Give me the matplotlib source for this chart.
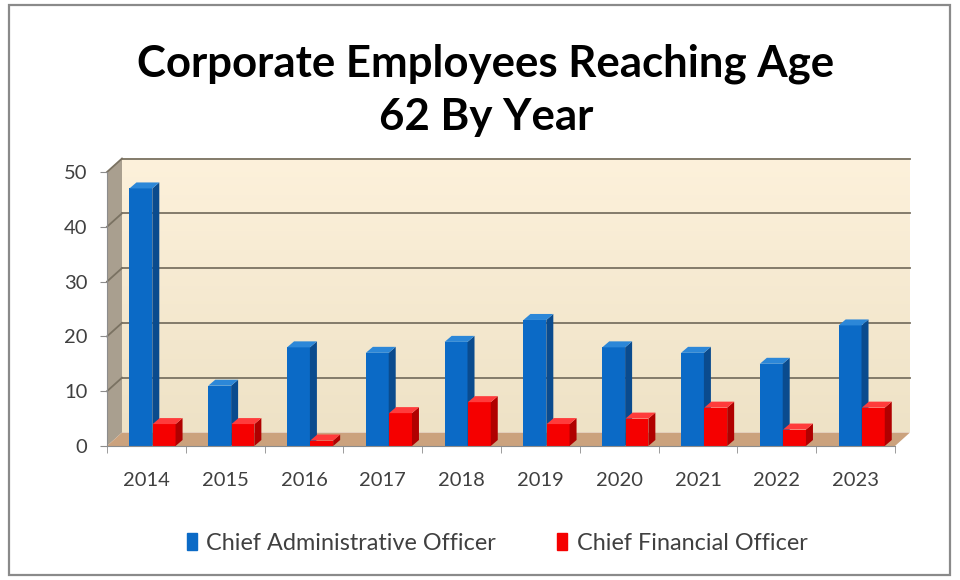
import matplotlib.pyplot as plt
import matplotlib.patches as mpatches
import numpy as np

# --- 1. DATA ---
years = ['2014', '2015', '2016', '2017', '2018', '2019', '2020', '2021', '2022', '2023']
cao = [47, 11, 18, 17, 19, 23, 18, 17, 15, 22]   # Chief Administrative Officer
cfo = [4, 4, 1, 6, 8, 4, 5, 7, 3, 7]             # Chief Financial Officer

# --- 2. 3D-LOOK SETTINGS (in data units) ---
X_PX = 10 / 788.0     # data units per pixel, x
Y_PX = 50 / 274.0     # data units per pixel, y
WALL_DX, WALL_DY = 15 * X_PX, 13.5 * Y_PX
BAR_DX, BAR_DY = 7 * X_PX, 6 * Y_PX
BAR_W = 0.29

plt.rcParams['font.family'] = ['Lato', 'DejaVu Sans']

fig = plt.figure(figsize=(9.6, 5.8), dpi=100)
ax = fig.add_axes([107 / 960, (580 - 446) / 580, 788 / 960, 274 / 580])
ax.set_xlim(-0.5, 9.5)
ax.set_ylim(0, 50)
ax.set_facecolor('none')

# back wall with gradient
wall_x0, wall_x1 = -0.5 + WALL_DX, 9.5 + WALL_DX
wall_y0, wall_y1 = WALL_DY, 50 + WALL_DY
grad = np.linspace(0, 1, 256).reshape(-1, 1)
top_c = np.array([253, 241, 219]) / 255
bot_c = np.array([238, 226, 198]) / 255
img = top_c * (1 - grad[..., None]) + bot_c * grad[..., None]
ax.imshow(img, extent=[wall_x0, wall_x1, wall_y0, wall_y1], aspect='auto',
          origin='upper', clip_on=False, zorder=0)

# left wall
left_wall = mpatches.Polygon([(-0.5, 0), (-0.5, 50), (wall_x0, wall_y1), (wall_x0, wall_y0)],
                             closed=True, facecolor='#A99F8F', edgecolor='none',
                             clip_on=False, zorder=0.5)
ax.add_patch(left_wall)

# floor
floor = mpatches.Polygon([(-0.5, 0), (9.5, 0), (wall_x1, wall_y0), (wall_x0, wall_y0)],
                         closed=True, facecolor='#CBA27D', edgecolor='none',
                         clip_on=False, zorder=0.5)
ax.add_patch(floor)

# gridlines on back wall and left wall
for v in [10, 20, 30, 40, 50]:
    ax.plot([wall_x0, wall_x1], [v + WALL_DY, v + WALL_DY], color='#7A7262', lw=1.3,
            clip_on=False, zorder=1)
    ax.plot([-0.5, wall_x0], [v, v + WALL_DY], color='#7A7262', lw=1.3,
            clip_on=False, zorder=1)


# --- 3. BARS ---
def draw_bars(xs, vals, front, side, top, z):
    ax.bar(xs, vals, width=BAR_W, color=front, edgecolor='none', zorder=z)
    for x, v in zip(xs, vals):
        x0, x1 = x - BAR_W / 2, x + BAR_W / 2
        ax.add_patch(mpatches.Polygon([(x1, 0), (x1 + BAR_DX, BAR_DY), (x1 + BAR_DX, v + BAR_DY), (x1, v)],
                                      closed=True, facecolor=side, edgecolor='none',
                                      clip_on=False, zorder=z))
        ax.add_patch(mpatches.Polygon([(x0, v), (x0 + BAR_DX, v + BAR_DY), (x1 + BAR_DX, v + BAR_DY), (x1, v)],
                                      closed=True, facecolor=top, edgecolor='none',
                                      clip_on=False, zorder=z))


idx = np.arange(len(years))
draw_bars(idx - 0.07, cao, '#0B6AC6', '#0A4B8E', '#2C87D8', 2)
draw_bars(idx + 0.225, cfo, '#F50000', '#B00000', '#FF3B3B', 3)

# --- 4. AXES ---
for s in ['top', 'right']:
    ax.spines[s].set_visible(False)
ax.spines['left'].set_color('#8C8C8C')
ax.spines['bottom'].set_color('#8C8C8C')
ax.spines['left'].set_zorder(4)
ax.spines['bottom'].set_zorder(4)

ax.set_yticks([0, 10, 20, 30, 40, 50])
ax.tick_params(axis='y', length=5, color='#8C8C8C', labelsize=14.5, labelcolor='#404040', pad=9)
ax.set_xticks(idx)
ax.set_xticklabels(years)
ax.set_xticks(np.arange(-0.5, 10, 1), minor=True)
ax.tick_params(axis='x', which='major', length=0, labelsize=14.5, labelcolor='#404040', pad=19)
ax.tick_params(axis='x', which='minor', length=5, color='#8C8C8C')

# --- 5. TITLE, LEGEND, BORDER ---
fig.text(0.506, 1 - 90 / 580, 'Corporate Employees Reaching Age\n62 By Year', ha='center', va='center',
         fontsize=31.5, fontweight='bold', color='black', linespacing=1.4)

handles = [mpatches.Patch(color='#0B6AC6', label='Chief Administrative Officer'),
           mpatches.Patch(color='#F50000', label='Chief Financial Officer')]
fig.legend(handles=handles, loc='center', bbox_to_anchor=(497 / 960, 1 - 543 / 580), ncol=2,
           frameon=False, fontsize=16.8, labelcolor='#404040', handlelength=0.45, handleheight=0.7,
           handletextpad=0.4, columnspacing=2.6)

fig.add_artist(mpatches.Rectangle((9 / 960, 5 / 580), 941 / 960, 570 / 580, transform=fig.transFigure,
                                  fill=False, edgecolor='#8A8A8A', lw=1.6))

plt.savefig('out.png', dpi=100)
